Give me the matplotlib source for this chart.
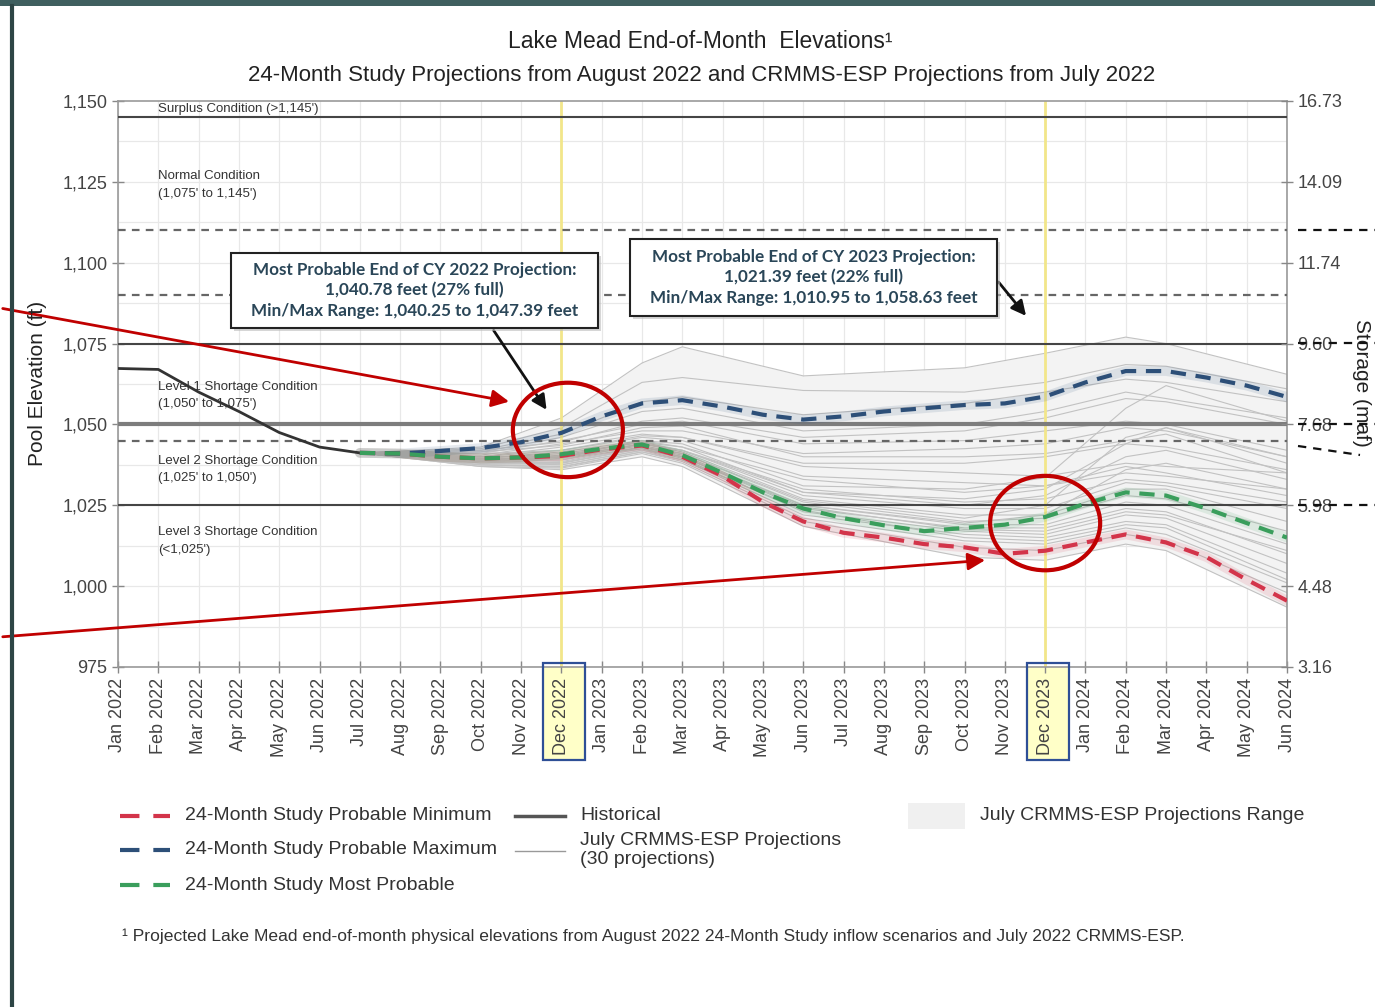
import matplotlib
matplotlib.use("Agg")
import matplotlib.pyplot as plt
import numpy as np
from matplotlib.patches import Rectangle, Ellipse
from matplotlib.lines import Line2D
from matplotlib.transforms import blended_transform_factory

plt.rcParams['font.family'] = ['Liberation Sans', 'DejaVu Sans']
plt.rcParams['lines.scale_dashes'] = False

W, H = 1375, 1007

# ---- data ----
months = ["Jan 2022", "Feb 2022", "Mar 2022", "Apr 2022", "May 2022", "Jun 2022",
          "Jul 2022", "Aug 2022", "Sep 2022", "Oct 2022", "Nov 2022", "Dec 2022",
          "Jan 2023", "Feb 2023", "Mar 2023", "Apr 2023", "May 2023", "Jun 2023",
          "Jul 2023", "Aug 2023", "Sep 2023", "Oct 2023", "Nov 2023", "Dec 2023",
          "Jan 2024", "Feb 2024", "Mar 2024", "Apr 2024", "May 2024", "Jun 2024"]

historical = [1067.3, 1067.0, 1060.0, 1054.0, 1047.5, 1043.0, 1041.2]   # Jan..Jul 2022

# 24-Month Study, Jul 2022 .. Jun 2024
prob_min = [1041.2, 1041.0, 1040.0, 1039.5, 1039.8, 1040.25, 1042.3, 1043.5, 1040.0, 1034.0,
            1026.0, 1020.0, 1016.5, 1015.0, 1013.0, 1012.0, 1010.0, 1010.95, 1013.5, 1016.0,
            1013.5, 1009.0, 1002.0, 995.5]
prob_max = [1041.2, 1041.0, 1041.8, 1042.7, 1044.5, 1047.39, 1052.5, 1056.5, 1057.5, 1055.5,
            1053.0, 1051.5, 1052.5, 1054.0, 1055.0, 1056.0, 1056.5, 1058.63, 1063.0, 1066.5,
            1066.5, 1064.5, 1062.0, 1058.5]
most_prob = [1041.2, 1041.0, 1040.0, 1039.5, 1039.8, 1040.78, 1042.5, 1043.8, 1040.5, 1035.0,
             1029.0, 1024.0, 1021.0, 1018.8, 1017.0, 1018.0, 1019.0, 1021.39, 1025.5, 1029.0,
             1028.0, 1024.0, 1019.5, 1015.0]

# July CRMMS-ESP traces at: Jul22 Oct22 Dec22 Feb23 Mar23 Jun23 Oct23 Dec23 Feb24 Mar24 Jun24
esp_months = ["Jul 2022", "Oct 2022", "Dec 2022", "Feb 2023", "Mar 2023", "Jun 2023",
              "Oct 2023", "Dec 2023", "Feb 2024", "Mar 2024", "Jun 2024"]
esp_runs = [
    [1041.2, 1043.0, 1052.0, 1069.0, 1074.0, 1065.0, 1067.5, 1072.0, 1077.0, 1075.0, 1065.5],
    [1041.2, 1042.5, 1049.0, 1063.0, 1064.5, 1060.5, 1060.0, 1063.0, 1068.5, 1068.0, 1061.0],
    [1041.2, 1042.0, 1047.0, 1057.0, 1058.5, 1053.0, 1056.5, 1060.0, 1064.0, 1063.0, 1057.0],
    [1041.2, 1041.5, 1046.0, 1054.0, 1055.0, 1048.0, 1050.0, 1054.0, 1060.0, 1058.0, 1052.0],
    [1041.2, 1041.0, 1045.0, 1050.0, 1051.0, 1044.0, 1045.0, 1048.0, 1051.0, 1050.0, 1042.0],
    [1041.2, 1040.5, 1044.0, 1048.0, 1048.0, 1041.0, 1042.5, 1044.0, 1049.0, 1048.0, 1040.0],
    [1041.2, 1040.0, 1043.0, 1047.0, 1046.0, 1037.0, 1035.0, 1034.0, 1038.0, 1037.0, 1035.0],
    [1041.2, 1040.0, 1042.0, 1046.0, 1045.0, 1034.0, 1032.0, 1031.0, 1037.0, 1035.0, 1028.0],
    [1041.2, 1039.5, 1041.5, 1045.0, 1044.0, 1031.0, 1030.0, 1033.5, 1055.0, 1062.0, 1051.0],
    [1041.2, 1039.5, 1041.0, 1044.5, 1043.0, 1029.0, 1027.0, 1030.0, 1044.0, 1049.0, 1038.0],
    [1041.2, 1039.0, 1040.5, 1044.5, 1042.0, 1028.0, 1024.0, 1024.0, 1032.0, 1031.0, 1024.0],
    [1041.2, 1039.0, 1040.0, 1044.0, 1041.5, 1027.0, 1022.0, 1022.0, 1030.0, 1030.0, 1020.0],
    [1041.2, 1038.5, 1039.5, 1043.5, 1041.0, 1026.0, 1020.0, 1021.0, 1028.0, 1027.0, 1017.0],
    [1041.2, 1038.5, 1039.0, 1043.0, 1040.5, 1025.0, 1019.0, 1019.0, 1026.0, 1025.0, 1013.0],
    [1041.2, 1038.0, 1038.5, 1043.0, 1040.0, 1024.0, 1018.0, 1018.0, 1024.0, 1023.0, 1010.0],
    [1041.2, 1038.0, 1038.0, 1042.5, 1039.5, 1023.0, 1017.0, 1016.0, 1022.0, 1021.0, 1007.0],
    [1041.2, 1037.5, 1037.5, 1042.0, 1039.0, 1022.0, 1016.0, 1015.0, 1020.0, 1019.0, 1004.0],
    [1041.2, 1037.5, 1037.0, 1041.5, 1038.5, 1021.0, 1014.0, 1013.0, 1018.0, 1016.0, 1001.0],
    [1041.2, 1037.0, 1036.5, 1041.0, 1038.0, 1020.0, 1012.0, 1011.0, 1016.0, 1014.0, 998.0],
    [1041.2, 1037.0, 1036.0, 1040.0, 1037.0, 1018.5, 1009.0, 1008.0, 1013.0, 1011.0, 993.5],
    [1041.2, 1040.0, 1040.0, 1045.0, 1043.0, 1033.0, 1029.0, 1031.0, 1035.0, 1034.0, 1030.0],
    [1041.2, 1039.5, 1039.0, 1044.0, 1042.0, 1030.0, 1026.0, 1027.0, 1033.0, 1032.0, 1026.0],
    [1041.2, 1039.0, 1038.0, 1043.0, 1041.0, 1026.5, 1021.0, 1025.0, 1046.0, 1049.0, 1040.0],
    [1041.2, 1038.5, 1037.5, 1042.0, 1040.0, 1025.0, 1019.5, 1022.0, 1036.0, 1038.0, 1030.0],
    [1041.2, 1041.0, 1042.0, 1046.5, 1046.0, 1038.0, 1038.0, 1040.0, 1044.0, 1043.0, 1036.0],
    [1041.2, 1041.5, 1043.5, 1049.0, 1049.5, 1040.0, 1040.0, 1041.0, 1045.0, 1047.0, 1035.0],
    [1041.2, 1037.5, 1036.8, 1041.5, 1039.0, 1023.5, 1015.0, 1014.0, 1019.0, 1018.0, 1002.0],
    [1041.2, 1038.0, 1038.2, 1042.5, 1040.0, 1024.5, 1017.5, 1017.0, 1023.0, 1022.0, 1011.0],
    [1041.2, 1039.0, 1039.8, 1044.0, 1042.0, 1029.0, 1025.0, 1028.0, 1040.0, 1042.0, 1033.0],
    [1041.2, 1042.0, 1044.5, 1051.0, 1052.0, 1046.0, 1048.0, 1052.0, 1058.0, 1057.0, 1050.0],
]

solid_levels = [1145, 1075, 1025]
dashed_levels = [1110, 1090, 1045]
level_1050 = 1050

elev_ticks = [975, 1000, 1025, 1050, 1075, 1100, 1125, 1150]
storage_labels = ["3.16", "4.48", "5.98", "7.68", "9.60", "11.74", "14.09", "16.73"]

conditions = [("Surplus Condition (>1,145')", 1147.5),
              ("Normal Condition\n(1,075' to 1,145')", 1124),
              ("Level 1 Shortage Condition\n(1,050' to 1,075')", 1059),
              ("Level 2 Shortage Condition\n(1,025' to 1,050')", 1036),
              ("Level 3 Shortage Condition\n(<1,025')", 1014)]

box_2022 = ["Most Probable End of CY 2022 Projection:",
            "1,040.78 feet (27% full)",
            "Min/Max Range: 1,040.25 to 1,047.39 feet"]
box_2023 = ["Most Probable End of CY 2023 Projection:",
            "1,021.39 feet (22% full)",
            "Min/Max Range: 1,010.95 to 1,058.63 feet"]

RED = '#d3344a'
BLUE = '#2d4f78'
GREEN = '#3a9e5c'


def fx(px):
    return px / W


def fy(py):
    return 1 - py / H


x_all = np.arange(len(months))
mi = {m: i for i, m in enumerate(months)}
x_ms = np.arange(6, 30)
x_esp = np.array([mi[m] for m in esp_months])
esp = np.array(esp_runs)

fig = plt.figure(figsize=(W / 100, H / 100), dpi=100)
ax = fig.add_axes([fx(118), fy(667), fx(1287) - fx(118), fy(101) - fy(667)])
ax.set_xlim(0, 29)
ax.set_ylim(975, 1150)

# grid
for xv in x_all:
    ax.axvline(xv, color='#e8e8e8', lw=0.9, zorder=0)
for yv in np.arange(975, 1150, 12.5):
    ax.axhline(yv, color='#e8e8e8', lw=0.9, zorder=0)

# range + ESP traces
ax.fill_between(x_esp, esp.min(axis=0), esp.max(axis=0), color='#f3f3f3', lw=0, zorder=1)
for run in esp_runs:
    ax.plot(x_esp, run, color='#c2c2c2', lw=0.8, zorder=2)

# condition lines
for lv in solid_levels:
    ax.axhline(lv, color='#454545', lw=1.5, zorder=3)
ax.axhline(level_1050, color='#7d7d7d', lw=3, zorder=3)
for lv in dashed_levels:
    ax.axhline(lv, color='#666666', lw=1.6, dashes=(5.5, 4.5), zorder=3)

# Dec markers
for m in ["Dec 2022", "Dec 2023"]:
    ax.axvline(mi[m], color='#f2e68a', lw=2, zorder=2.5)

# historical and 24MS
ax.plot(x_all[:len(historical)], historical, color='#333333', lw=2, zorder=5)
for vals, c in [(prob_min, RED), (prob_max, BLUE), (most_prob, GREEN)]:
    ax.plot(x_ms, vals, color=c, lw=7, alpha=0.12, solid_capstyle='round', zorder=4)
    ax.plot(x_ms, vals, color=c, lw=3, dashes=(11, 7), zorder=6)

# condition labels
for txt, yv in conditions:
    ax.text(1, yv, txt, fontsize=9.5, color='#333333', va='center', ha='left',
            linespacing=1.6, zorder=7)

# axes styling
ax.set_xticks(x_all)
ax.set_xticklabels(months, rotation=90, fontsize=13, color='#444444')
ax.set_yticks(elev_ticks)
ax.set_yticklabels([f"{v:,}" for v in elev_ticks], fontsize=13, color='#444444')
ax.tick_params(axis='both', direction='inout', length=8, color='#888888', width=1)
for s in ax.spines.values():
    s.set_color('#999999')
    s.set_linewidth(1.2)

ax2 = ax.twinx()
ax2.set_ylim(975, 1150)
ax2.set_yticks(elev_ticks)
ax2.set_yticklabels(storage_labels, fontsize=13, color='#444444')
ax2.tick_params(axis='y', direction='inout', length=8, color='#888888', width=1)
for s in ax2.spines.values():
    s.set_visible(False)

# highlighted Dec tick labels
bt = blended_transform_factory(ax.transData, ax.transAxes)
for m in ["Dec 2022", "Dec 2023"]:
    xi = mi[m]
    fig.add_artist(Rectangle((xi - 0.45, -0.165), 1.03, 0.172, transform=bt,
                             facecolor='#ffffc8', edgecolor='none', zorder=-1))
    fig.add_artist(Rectangle((xi - 0.45, -0.165), 1.03, 0.172, transform=bt,
                             facecolor='none', edgecolor='#2e4f96', lw=1.6, zorder=10))

# titles and axis labels
fig.text(fx(700), fy(42), "Lake Mead End-of-Month  Elevations\u00b9", ha='center', va='center',
         fontsize=16.5, color='#222222')
fig.text(fx(702), fy(76), "24-Month Study Projections from August 2022 and CRMMS-ESP Projections from July 2022",
         ha='center', va='center', fontsize=16, color='#222222')
fig.text(fx(38), fy(383), "Pool Elevation (ft)", rotation=90, ha='center', va='center',
         fontsize=15, color='#222222')
fig.text(fx(1362), fy(383), "Storage (maf)", rotation=270, ha='center', va='center',
         fontsize=15, color='#222222')

# annotation boxes
for (x0, y0, x1, y1), lines in [((231, 253, 598, 328), box_2022), ((630, 239, 997, 316), box_2023)]:
    fig.add_artist(Rectangle((fx(x0 + 3), fy(y1 + 3)), fx(x1 - x0), fy(y0) - fy(y1),
                             transform=fig.transFigure, facecolor='#bbbbbb', edgecolor='none',
                             alpha=0.6, zorder=11))
    fig.add_artist(Rectangle((fx(x0), fy(y1)), fx(x1 - x0), fy(y0) - fy(y1),
                             transform=fig.transFigure, facecolor='white', edgecolor='#222222',
                             lw=1.5, zorder=12))
    cy = (y0 + y1) / 2
    for k, line in enumerate(lines):
        fig.text(fx((x0 + x1) / 2), fy(cy + (k - 1) * 20.5), line, ha='center', va='center',
                 fontsize=12.3, family='Lato', fontweight='bold', color='#2a4658', zorder=13)

# black arrows
for (xa, ya), (xb, yb) in [((9.28, 1079.8), (10.67, 1053.8)), ((21.8, 1094.7), (22.57, 1082.9))]:
    ax.annotate('', xy=(xb, yb), xytext=(xa, ya), xycoords='data', textcoords='data',
                arrowprops=dict(arrowstyle='-|>', color='#111111', lw=2, mutation_scale=22),
                annotation_clip=False, zorder=14)

# red arrows from the left edge
for (yfig, (xt, yt)) in [(H - 308, (9.77, 1056.9)), (H - 637, (21.58, 1008.1))]:
    ax.annotate('', xy=(xt, yt), xytext=(0, yfig), textcoords='figure pixels',
                arrowprops=dict(arrowstyle='-|>', color='#c00000', lw=2, mutation_scale=26),
                annotation_clip=False, zorder=14)

# red circles
for xc, yc in [(mi["Dec 2022"] + 0.16, 1048.3), (mi["Dec 2023"], 1019.5)]:
    ax.add_patch(Ellipse((xc, yc), 2.73, 29.2, facecolor='none', edgecolor='#c00000',
                         lw=3, zorder=15, clip_on=False))

# dashed overlay marks on the right
for (xa, ya, xb, yb) in [(1298, 230, 1375, 230), (1298, 343, 1375, 343), (1298, 424, 1375, 424),
                         (1298, 446, 1360, 455), (1298, 505, 1375, 505)]:
    fig.add_artist(Line2D([fx(xa), fx(xb)], [fy(ya), fy(yb)], transform=fig.transFigure,
                          color='#111111', lw=1.6, dashes=(6, 5), zorder=9))

# legend
leg_lines = [(120, 816, RED, 3, (14, 10)), (120, 850, BLUE, 3, (14, 10)), (120, 885, GREEN, 3, (14, 10)),
             (515, 816, '#555555', 2.5, None), (515, 851, '#999999', 1, None)]
for x0, yy, c, lw, d in leg_lines:
    ln = Line2D([fx(x0), fx(x0 + 50)], [fy(yy), fy(yy)], transform=fig.transFigure, color=c, lw=lw)
    if d:
        ln.set_dashes(d)
    fig.add_artist(ln)
fig.add_artist(Rectangle((fx(908), fy(829)), fx(57), fy(803) - fy(829), transform=fig.transFigure,
                         facecolor='#f0f0f0', edgecolor='none'))
leg_texts = [(185, 816, "24-Month Study Probable Minimum"),
             (185, 850, "24-Month Study Probable Maximum"),
             (185, 885, "24-Month Study Most Probable"),
             (580, 816, "Historical"),
             (580, 850, "July CRMMS-ESP Projections\n(30 projections)"),
             (980, 816, "July CRMMS-ESP Projections Range")]
for xt, yt, t in leg_texts:
    fig.text(fx(xt), fy(yt), t, ha='left', va='center', fontsize=14, color='#333333', linespacing=1.15)

fig.text(fx(122), fy(936), "\u00b9 Projected Lake Mead end-of-month physical elevations from August 2022 "
         "24-Month Study inflow scenarios and July 2022 CRMMS-ESP.", ha='left', va='center',
         fontsize=12.6, color='#333333')

# slide frame
fig.add_artist(Rectangle((0, fy(6)), 1, fy(0) - fy(6), transform=fig.transFigure,
                         facecolor='#3f5f5f', edgecolor='none', zorder=20))
fig.add_artist(Line2D([fx(12), fx(12)], [0, fy(6)], transform=fig.transFigure,
                      color='#2d4545', lw=3, zorder=20))

fig.savefig("out.png", dpi=100)
